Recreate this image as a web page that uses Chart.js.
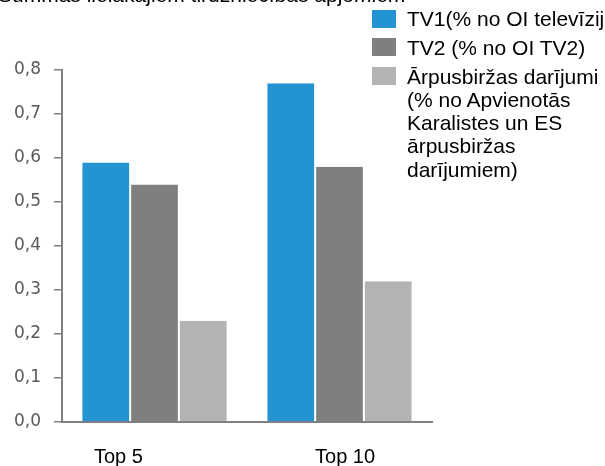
<!DOCTYPE html>
<html><head><meta charset="utf-8">
<script src="https://cdn.jsdelivr.net/npm/chart.js@4.4.0/dist/chart.umd.min.js"></script>
<style>
html,body{margin:0;padding:0;width:605px;height:466px;overflow:hidden;background:#fff;}
#wrap{position:relative;width:605px;height:466px;}
#title{position:absolute;left:-2px;top:-17px;font:21px "Liberation Sans",Arial,sans-serif;color:#000;white-space:nowrap;line-height:24px;}
#legend{position:absolute;left:372px;top:7px;font:21px "Liberation Sans",Arial,sans-serif;color:#000;}
.item{display:flex;align-items:flex-start;margin-bottom:5.5px;}
.box{width:24px;height:18px;flex:none;margin-top:2.5px;margin-right:11px;}
.txt{line-height:23.3px;width:200px;}
.txt.nw{white-space:nowrap;}
</style></head>
<body><div id="wrap">
<canvas id="c" width="605" height="466"></canvas>
<div id="title"></div>
<div id="legend"></div>
</div>
<script>
const titleText = 'Summas lielākajiem tirdzniecības apjomiem';
const categories = ['Top 5', 'Top 10'];
const seriesLabels = ['TV1(% no OI televīzijas)', 'TV2 (% no OI TV2)', 'Ārpusbiržas darījumi (% no Apvienotās Karalistes un ES ārpusbiržas darījumiem)'];
const tv1 = [0.59, 0.77];
const tv2 = [0.54, 0.58];
const otc = [0.23, 0.32];
const yTicks = [0, 0.1, 0.2, 0.3, 0.4, 0.5, 0.6, 0.7, 0.8];
const colors = ['#2394D1', '#7F7F7F', '#B3B3B3'];

document.getElementById('title').textContent = titleText;
const lg = document.getElementById('legend');
[tv1, tv2, otc].forEach((d, i) => {
  const it = document.createElement('div'); it.className = 'item';
  const b = document.createElement('div'); b.className = 'box'; b.style.background = colors[i];
  const t = document.createElement('div'); t.className = 'txt' + (i === 0 ? ' nw' : ''); t.textContent = seriesLabels[i];
  it.appendChild(b); it.appendChild(t); lg.appendChild(it);
});

const xPad = ['Top 5\u00a0\u00a0\u00a0\u00a0\u00a0\u00a0\u00a0\u00a0\u00a0\u00a0\u00a0\u00a0\u00a0', '\u00a0\u00a0Top 10'];

new Chart(document.getElementById('c'), {
  type: 'bar',
  data: {
    labels: categories,
    datasets: [tv1, tv2, otc].map((d, i) => ({
      label: seriesLabels[i], data: d, backgroundColor: colors[i],
      borderColor: 'rgba(255,255,255,0.7)', borderWidth: {left: 1, right: 1, top: 0, bottom: 0},
      barPercentage: 1.0, categoryPercentage: 0.79
    }))
  },
  options: {
    responsive: false, animation: false,
    layout: {padding: {top: 70, right: 173, left: 0, bottom: 0}},
    plugins: {legend: {display: false}, title: {display: false}, tooltip: {enabled: false}},
    scales: {
      x: {
        grid: {display: false},
        border: {display: true, color: '#808080', width: 2},
        ticks: {color: '#000', font: {family: '"Liberation Sans", Arial, sans-serif', size: 20}, padding: 15,
          callback: (v, i) => xPad[i]},
        afterFit: s => { s.height = 44; }
      },
      y: {
        min: 0, max: 0.8,
        afterBuildTicks: s => { s.ticks = yTicks.map(v => ({value: v})); },
        grid: {display: true, drawOnChartArea: false, drawTicks: true, tickLength: 8, color: '#808080', lineWidth: 1.5},
        border: {display: true, color: '#808080', width: 2},
        ticks: {color: '#595959', font: {family: '"DejaVu Sans", Verdana, sans-serif', size: 17}, padding: 13,
          callback: v => v.toFixed(1).replace('.', ',')},
        afterFit: s => { s.width = 62; }
      }
    }
  }
});
</script>
</body></html>
